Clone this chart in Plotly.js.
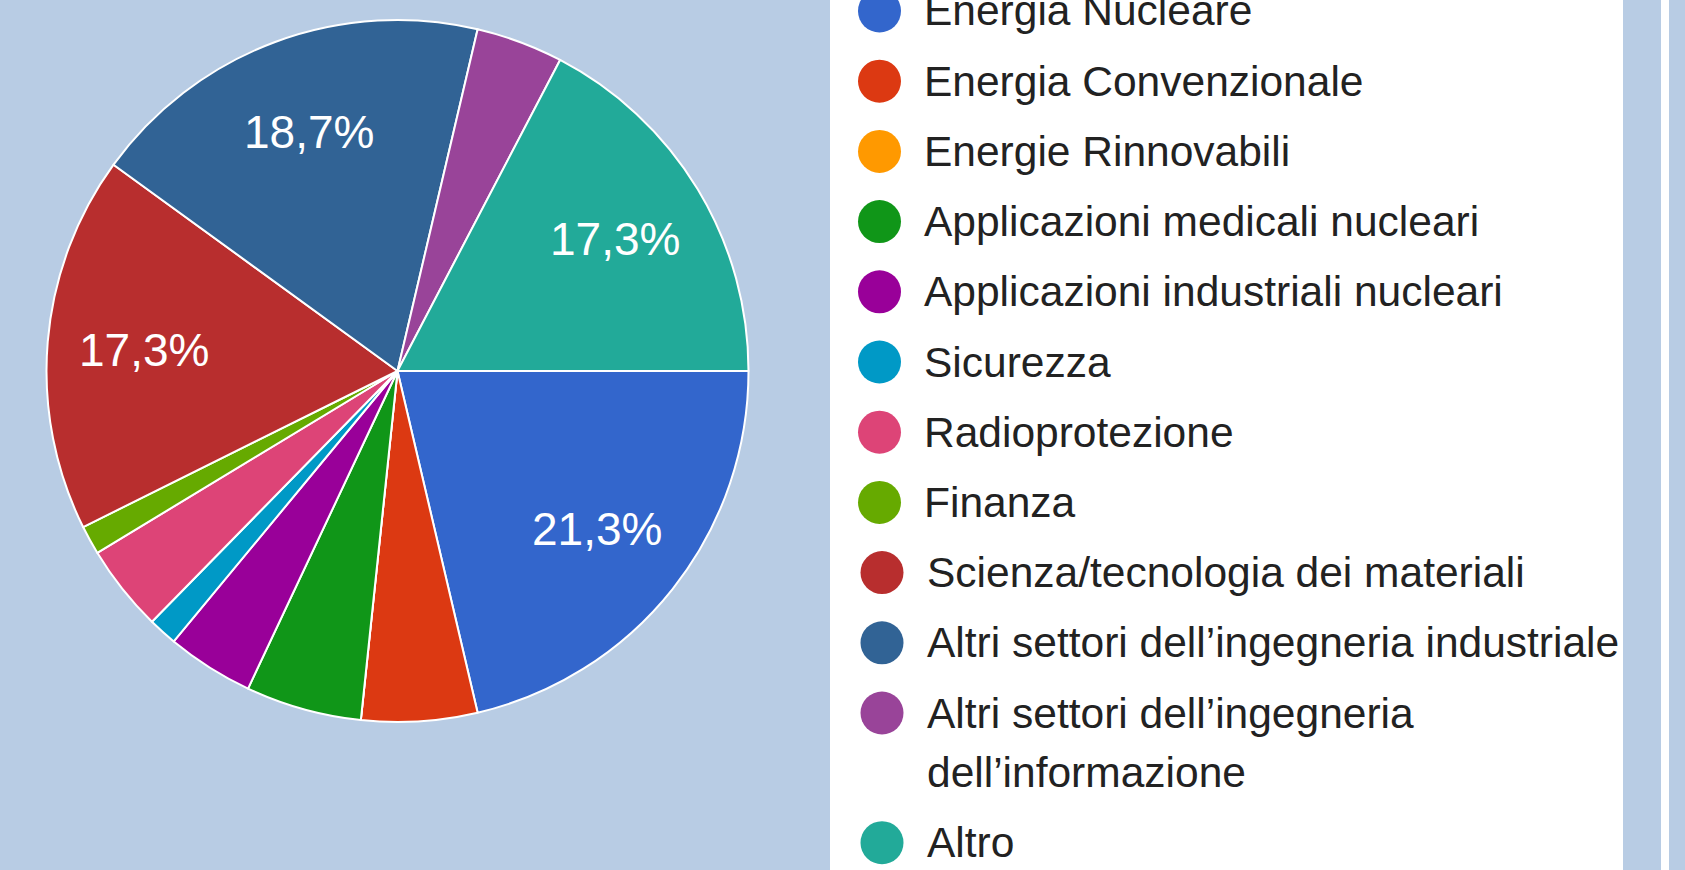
<!DOCTYPE html>
<html>
<head>
<meta charset="utf-8">
<script src="https://cdn.plot.ly/plotly-3.0.1.min.js"></script>
<style>
  html, body { margin: 0; padding: 0; background: #b8cce4; }
  #chart { width: 1685px; height: 870px; }
</style>
</head>
<body>
<div id="chart"></div>
<script>
// ---- data ----
const categories = [
  "Energia Nucleare",
  "Energia Convenzionale",
  "Energie Rinnovabili",
  "Applicazioni medicali nucleari",
  "Applicazioni industriali nucleari",
  "Sicurezza",
  "Radioprotezione",
  "Finanza",
  "Scienza/tecnologia dei materiali",
  "Altri settori dell’ingegneria industriale",
  "Altri settori dell’ingegneria|dell’informazione",
  "Altro"
];
const counts = [16, 4, 0, 4, 3, 1, 3, 1, 13, 14, 3, 13];
const sliceColors = [
  "#3366cc", "#dc3912", "#ff9900", "#109618", "#990099", "#0099c6",
  "#dd4477", "#66aa00", "#b82e2e", "#316395", "#994499", "#22aa99"
];

// ---- layout helpers (pixels -> paper) ----
const W = 1685, H = 870;
const px = v => v / W;
const py = v => 1 - v / H;
const FONT = "Liberation Sans, Arial, sans-serif";

const total = counts.reduce((a, b) => a + b, 0);
const cx = 397.5, cy = 371, R = 351;
const startDeg = 0;          // first slice starts at 3 o'clock, clockwise
const labelFrac = 0.725;     // radial position of slice labels

const pie = {
  type: "pie",
  labels: categories.map(c => c.replace("|", " ")),
  values: counts,
  sort: false,
  direction: "clockwise",
  rotation: 90,
  marker: { colors: sliceColors, line: { color: "#ffffff", width: 2 } },
  textinfo: "none",
  hoverinfo: "label+percent",
  showlegend: false,
  domain: { x: [px(cx - R), px(cx + R)], y: [py(cy + R), py(cy - R)] }
};

const annotations = [];
// slice percentage labels (only for slices > 10%)
let cum = 0;
counts.forEach((v, i) => {
  const share = v / total;
  const mid = (startDeg + (cum + share / 2) * 360) * Math.PI / 180;
  cum += share;
  if (share <= 0.1) return;
  const lx = cx + labelFrac * R * Math.cos(mid);
  const ly = cy + labelFrac * R * Math.sin(mid);
  annotations.push({
    xref: "paper", yref: "paper", x: px(lx), y: py(ly),
    xanchor: "center", yanchor: "middle", showarrow: false,
    text: (share * 100).toFixed(1).replace(".", ",") + "%",
    font: { family: FONT, size: 46, color: "#ffffff" }
  });
});

// ---- legend (drawn as shapes + annotations) ----
const shapes = [
  { type: "rect", xref: "paper", yref: "paper", x0: px(830), x1: px(1623), y0: 0, y1: 1,
    fillcolor: "#ffffff", line: { width: 0 }, layer: "below" },
  { type: "rect", xref: "paper", yref: "paper", x0: px(1661), x1: px(1669), y0: 0, y1: 1,
    fillcolor: "#ffffff", line: { width: 0 }, layer: "below" }
];
const rowStep = 70.2, extraLine = 59.5, dotR = 21.5;
let yCur = 11;
categories.forEach((cat, i) => {
  const dotX = i < 8 ? 879.5 : 882;
  shapes.push({
    type: "circle", xref: "paper", yref: "paper",
    x0: px(dotX - dotR), x1: px(dotX + dotR), y0: py(yCur + dotR), y1: py(yCur - dotR),
    fillcolor: sliceColors[i], line: { width: 0 }
  });
  const lines = cat.split("|");
  lines.forEach((ln, j) => {
    annotations.push({
      xref: "paper", yref: "paper", x: px(i < 8 ? 922 : 925), y: py(yCur + j * extraLine),
      xanchor: "left", yanchor: "middle", showarrow: false, text: ln,
      font: { family: FONT, size: 42.5, color: "#222222" }
    });
  });
  yCur += rowStep + (lines.length - 1) * extraLine;
});

const layout = {
  width: W, height: H,
  margin: { l: 0, r: 0, t: 0, b: 0, pad: 0 },
  paper_bgcolor: "#b8cce4",
  plot_bgcolor: "#b8cce4",
  separators: ",.",
  showlegend: false,
  shapes: shapes,
  annotations: annotations
};

Plotly.newPlot("chart", [pie], layout, { displayModeBar: false, staticPlot: true });
</script>
</body>
</html>
